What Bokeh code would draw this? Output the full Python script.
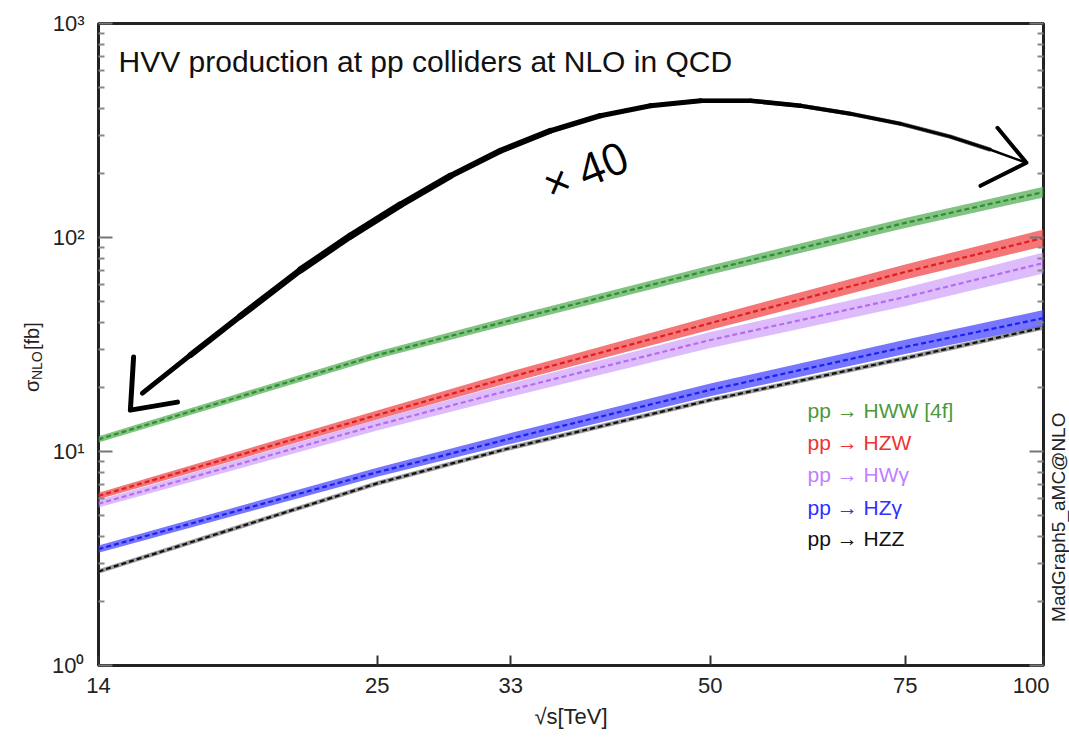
import math
from bokeh.plotting import figure
from bokeh.layouts import row
from bokeh.models import FixedTicker, LogAxis, Label, CustomJSTickFormatter
from bokeh.embed import file_html
from bokeh.resources import INLINE

# ---------------- data ----------------
SQRT_S = [14, 25, 33, 50, 75, 100]          # TeV
X_TICKS = [14, 25, 33, 50, 75, 100]
Y_TICKS = [1, 10, 100, 1000]

XS_HWW = [11.4, 28.2, 41.0, 70.5, 117.0, 163.0]
XS_HZW = [6.2, 14.8, 22.3, 39.8, 69.0, 99.6]
XS_HWA = [5.7, 13.3, 19.4, 33.2, 52.7, 76.0]
XS_HZA = [3.5, 8.0, 11.5, 19.4, 30.8, 42.0]
XS_HZZ = [2.75, 7.1, 10.4, 17.4, 27.3, 38.0]

# relative scale-uncertainty half widths (%)
UNC_HWW = [3.5, 4.0, 4.5, 5.0, 5.5, 6.0]
UNC_HZW = [3.5, 5.0, 6.0, 7.5, 8.5, 9.5]
UNC_HWA = [4.0, 6.0, 7.5, 9.0, 10.5, 12.0]
UNC_HZA = [4.0, 5.0, 6.0, 7.0, 8.0, 9.0]
UNC_HZZ = [2.5, 2.5, 2.5, 2.5, 2.5, 2.5]

LABELS = ["pp \u2192 HWW [4f]", "pp \u2192 HZW", "pp \u2192 HW\u03b3", "pp \u2192 HZ\u03b3", "pp \u2192 HZZ"]
SERIES = [XS_HWW, XS_HZW, XS_HWA, XS_HZA, XS_HZZ]
UNCS = [UNC_HWW, UNC_HZW, UNC_HWA, UNC_HZA, UNC_HZZ]
LINE_COLORS = ["#2f8f2f", "#e01e24", "#b46cf0", "#2020ee", "#111111"]
BAND_COLORS = ["#58ad58", "#f04848", "#c890fa", "#4848ff", "#5a5a5a"]
BAND_ALPHA = [0.75, 0.75, 0.6, 0.75, 0.6]
TEXT_COLORS = ["#4a9a3a", "#ee3333", "#c080ff", "#3030ff", "#111111"]

# annotation (hand-drawn arrow) path, in data coordinates
ARROW_X = [15.34, 16.95, 18.81, 21.31, 23.65, 26.24, 29.12, 32.31, 35.85, 39.78,
           44.15, 48.99, 54.36, 60.31, 66.92, 74.26, 82.40, 89.56, 96.52]
ARROW_Y = [18.74, 28.22, 42.97, 70.5, 101.7, 142.1, 194.2, 254.2, 315.3, 370.7,
           412.8, 435.7, 435.7, 412.8, 378.7, 340.1, 295.7, 257.0, 223.4]
ARROW_W = [5, 6, 6.5, 7, 7, 6.5, 6, 6, 5.5, 5, 5, 4.5, 4.5, 4, 3.5, 3, 3, 2.5]
HEAD_L_X = [15.06, 14.96, 16.50]
HEAD_L_Y = [27.63, 15.61, 17.01]
HEAD_R_X = [90.87, 96.52, 87.71]
HEAD_R_Y = [325.7, 223.4, 174.4]
LEGEND_X = 61.2
LEGEND_Y = [15.61, 11.04, 7.77, 5.49, 3.93]
TAG_Y = 4.93          # vertical centre of the program tag
YLAB_Y = [18.95, 21.56, 29.79]   # starts of "σ", "NLO", "[fb]"

FONT = "Liberation Sans"
H = 742
TOP, BOTTOM = 23, 77
W_LEFT, W_MAIN, W_RIGHT = 45, 1004, 20

# ---------------- main plot ----------------
p = figure(width=W_MAIN, height=H, x_axis_type="log", y_axis_type="log",
           x_range=(14, 100), y_range=(1, 1000),
           output_backend="svg", toolbar_location=None,
           min_border_left=53, min_border_right=6, min_border_top=TOP, min_border_bottom=BOTTOM)
p.grid.visible = False
p.outline_line_color = "#222222"
p.outline_line_width = 3
p.background_fill_color = "white"
p.border_fill_color = "white"

xa = p.xaxis[0]
xa.ticker = FixedTicker(ticks=X_TICKS, minor_ticks=[])
xa.formatter = CustomJSTickFormatter(code="return tick.toFixed(0);")
xa.axis_line_color = None
xa.major_tick_in = 10
xa.major_tick_out = 0
xa.major_tick_line_color = "#333333"
xa.major_tick_line_width = 2
xa.major_label_text_font = FONT
xa.major_label_text_font_size = "22px"
xa.major_label_text_color = "#222222"
xa.major_label_standoff = 12
xa.axis_label = "\u221as[TeV]"
xa.axis_label_text_font = FONT
xa.axis_label_text_font_style = "normal"
xa.axis_label_text_font_size = "22px"
xa.axis_label_text_color = "#222222"
xa.axis_label_standoff = 8

minor = [m * 10 ** e for e in range(0, 3) for m in range(2, 10)]
sup = CustomJSTickFormatter(code="""
const s = {0:'\u2070', 1:'\u00b9', 2:'\u00b2', 3:'\u00b3'};
const e = Math.round(Math.log10(tick));
return '10' + s[e];
""")

ya = p.yaxis[0]
ya.ticker = FixedTicker(ticks=Y_TICKS, minor_ticks=minor)
ya.formatter = sup
ya.axis_line_color = None
ya.major_tick_in = 14
ya.major_tick_out = 0
ya.minor_tick_in = 6
ya.minor_tick_out = 0
ya.major_tick_line_color = "#777777"
ya.major_tick_line_width = 2
ya.minor_tick_line_color = "#888888"
ya.minor_tick_line_width = 2
ya.major_label_text_font = FONT
ya.major_label_text_font_size = "22px"
ya.major_label_text_color = "#222222"
ya.major_label_standoff = 14

ra = LogAxis(ticker=FixedTicker(ticks=Y_TICKS, minor_ticks=minor),
             formatter=CustomJSTickFormatter(code="return '';"))
ra.axis_line_color = None
ra.major_tick_in = 14
ra.major_tick_out = 0
ra.minor_tick_in = 6
ra.minor_tick_out = 0
ra.major_tick_line_color = "#777777"
ra.major_tick_line_width = 2
ra.minor_tick_line_color = "#888888"
ra.minor_tick_line_width = 2
ra.major_label_text_font_size = "2px"
ra.major_label_text_color = "white"
ra.major_label_standoff = 0
p.add_layout(ra, "right")

for vals, unc, lc, bc, ba in zip(SERIES, UNCS, LINE_COLORS, BAND_COLORS, BAND_ALPHA):
    lo = [v / (1 + u / 100.0) for v, u in zip(vals, unc)]
    hi = [v * (1 + u / 100.0) for v, u in zip(vals, unc)]
    p.varea(x=SQRT_S, y1=lo, y2=hi, fill_color=bc, fill_alpha=ba)
    p.line(SQRT_S, vals, line_color=lc, line_width=2.2, line_dash="5 3")

# hand drawn arrow
p.segment(x0=ARROW_X[:-1], y0=ARROW_Y[:-1], x1=ARROW_X[1:], y1=ARROW_Y[1:],
          line_width=ARROW_W, line_color="black", line_cap="round")
for fy, fx, a in [(1.016, 1.002, 0.6), (1 / 1.016, 0.998, 0.6)]:
    p.line([x * fx for x in ARROW_X[1:-1]], [y * fy for y in ARROW_Y[1:-1]],
           line_color="black", line_width=1, line_alpha=a)
p.line(HEAD_L_X, HEAD_L_Y, line_color="black", line_width=5, line_cap="round", line_join="round")
p.line(HEAD_R_X, HEAD_R_Y, line_color="black", line_width=4, line_cap="round", line_join="round")

p.add_layout(Label(x=38.56, y=207.2, text="\u00d7 40", angle=0.384, text_align="center",
                   text_baseline="middle", text_font_size="44px", text_font="Open Sans",
                   text_color="black"))

p.add_layout(Label(x=14, y=663, x_offset=20, text="HVV production at pp colliders at NLO in QCD",
                   text_font=FONT, text_font_size="30px", text_color="#111111",
                   text_baseline="alphabetic", text_align="left"))

for t, c, ly in zip(LABELS, TEXT_COLORS, LEGEND_Y):
    p.add_layout(Label(x=LEGEND_X, y=ly, text=t, text_font=FONT, text_font_size="21px",
                       text_color=c, text_baseline="middle", text_align="left"))


def side_panel(width):
    s = figure(width=width, height=H, x_range=(0, width), y_range=(1, 1000), y_axis_type="log",
               x_axis_location=None, y_axis_location=None, toolbar_location=None,
               output_backend="svg", min_border_left=0, min_border_right=0,
               min_border_top=TOP, min_border_bottom=BOTTOM)
    s.grid.visible = False
    s.outline_line_color = None
    s.background_fill_color = "white"
    s.border_fill_color = "white"
    return s


# left strip: y-axis title  sigma_NLO [fb]
pl = side_panel(W_LEFT)
for txt, yy, xx, fs in zip(["\u03c3", "NLO", "[fb]"], YLAB_Y, [31, 36, 31], ["20px", "14px", "20px"]):
    pl.add_layout(Label(x=xx, y=yy, text=txt, angle=math.pi / 2, text_font=FONT,
                        text_font_size=fs, text_color="#222222",
                        text_align="left", text_baseline="middle"))

# right strip: program tag
pr = side_panel(W_RIGHT)
pr.add_layout(Label(x=8.5, y=TAG_Y, text="MadGraph5_aMC@NLO", angle=math.pi / 2,
                    text_font=FONT, text_font_size="19px", text_color="#222222",
                    text_align="center", text_baseline="middle"))

layout = row(pl, p, pr)
open("out.html", "w").write(file_html(layout, INLINE))
